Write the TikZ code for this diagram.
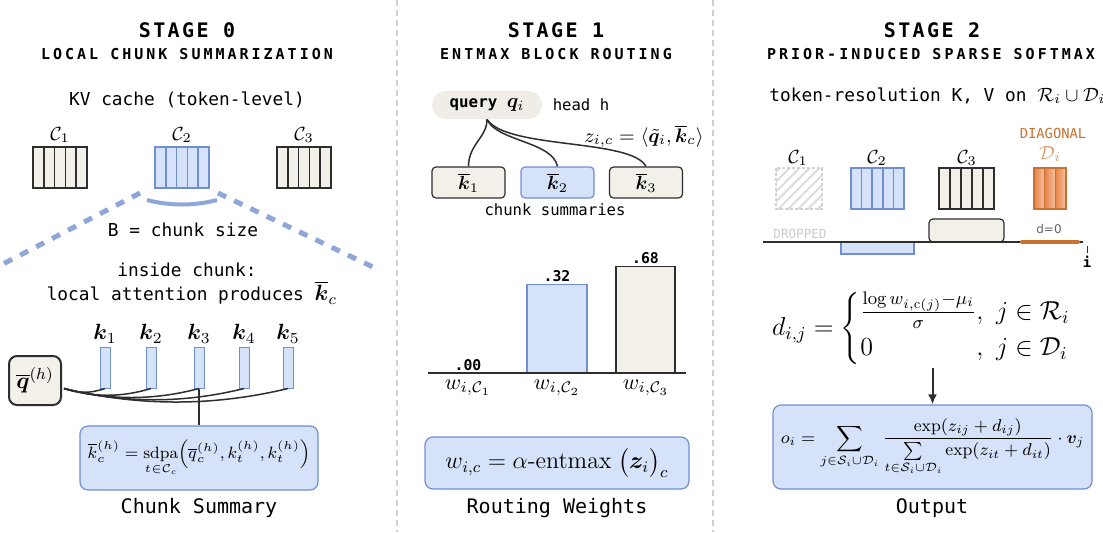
\RequirePackage{fix-cm}
\documentclass[tikz,border=0pt]{standalone}
\usepackage{amsmath,bm}
\usepackage{fontspec}
\setmonofont{DejaVu Sans Mono}
\newfontfamily\stagefont[LetterSpace=12]{DejaVu Sans Mono}
\newfontfamily\subfont[LetterSpace=20]{DejaVu Sans Mono}
\newfontfamily\smallsans{DejaVu Sans}
\usetikzlibrary{positioning,patterns.meta,arrows.meta,calc}
\definecolor{beige}{HTML}{F2F0E9}
\definecolor{pillfill}{HTML}{EFEDE5}
\definecolor{paleblue}{HTML}{D6E2FA}
\definecolor{blueline}{HTML}{6F8FD2}
\definecolor{dashblue}{HTML}{8FA7D8}
\definecolor{orangeline}{HTML}{C9722F}
\definecolor{orangefill}{HTML}{E8884A}
\definecolor{sepgray}{HTML}{D0D0D0}
\definecolor{darkline}{HTML}{2E2E2E}
\begin{document}
\begin{tikzpicture}[x=0.5pt, y=-0.5pt, every node/.style={inner sep=1pt},
    stagetitle/.style={font=\stagefont\bfseries\fontsize{10}{12}\selectfont},
    subtitle/.style={font=\subfont\bfseries\fontsize{7.5}{9}\selectfont},
    mono/.style={font=\ttfamily\fontsize{8.9}{10}\selectfont},
    smallmono/.style={font=\ttfamily\fontsize{7.8}{9}\selectfont},
    caption/.style={font=\ttfamily\fontsize{10}{12}\selectfont},
    val/.style={font=\ttfamily\bfseries\fontsize{7.4}{9}\selectfont},
    mathlbl/.style={font=\fontsize{9.5}{10}\selectfont},
    box/.style={draw=blueline, fill=paleblue, rounded corners=4pt, line width=0.6pt, inner sep=0pt},
    kbox/.style={draw=darkline, fill=beige, rounded corners=2pt, line width=0.6pt, minimum width=36.5pt, minimum height=15.5pt, inner sep=0pt, font=\fontsize{9.5}{10}\selectfont},
    kbar/.style={draw=blueline, fill=paleblue, line width=0.5pt, minimum width=5pt, minimum height=20.5pt, inner sep=0pt},
    wbar/.style={line width=0.6pt, inner sep=0pt, anchor=south},
    link/.style={draw=darkline, line width=0.75pt},
    chunk/.style={line width=0.8pt},
    sep/.style={draw=sepgray, line width=0.6pt, dash pattern=on 3pt off 2pt}]
    \useasboundingbox (0,0) rectangle (1103,532) ;
    \fill[white] (0,0) rectangle (1103,532) ;
    \draw[sep] (397,0) -- (397,532) ;
    \draw[sep] (713,0) -- (713,532) ;

    % stage 0
    \node[stagetitle] (t0) at (187,30) {STAGE 0} ;
    \node[subtitle] (s0) at (187,54) {LOCAL CHUNK SUMMARIZATION} ;
    \node[mono] (kv) at (187,100) {KV cache (token-level)} ;
    \draw[chunk, draw=darkline, fill=beige] (33,147) rectangle ++(54,41) ;
    \foreach \k in {1,...,4} \draw[chunk, draw=darkline] (33+\k*10.8,147) -- ++(0,41) ;
    \draw[chunk, draw=blueline, fill=paleblue] (155,147) rectangle ++(54,41) ;
    \foreach \k in {1,...,4} \draw[chunk, draw=blueline] (155+\k*10.8,147) -- ++(0,41) ;
    \draw[chunk, draw=darkline, fill=beige] (277,147) rectangle ++(54,41) ;
    \foreach \k in {1,...,4} \draw[chunk, draw=darkline] (277+\k*10.8,147) -- ++(0,41) ;
    \node[mathlbl] (c1) at (60,135) {$\mathcal{C}_1$} ;
    \node[mathlbl] (c2) at (182,135) {$\mathcal{C}_2$} ;
    \node[mathlbl] (c3) at (304,135) {$\mathcal{C}_3$} ;
    \draw[dashblue, line width=2pt] (147,200) .. controls (170,206) and (194,206) .. (217,200) ;
    \draw[dashblue, line width=2.5pt, dash pattern=on 4.5pt off 4.5pt] (140,193) -- (3,264) ;
    \draw[dashblue, line width=2.5pt, dash pattern=on 4.5pt off 4.5pt] (218,193) -- (375,268) ;
    \node[mono] (bsize) at (183,230) {B = chunk size} ;
    \node[mono] (inside) at (187,270) {inside chunk:} ;
    \node[mono] (local) at (192,293) {local attention produces {\fontsize{11}{12}\selectfont$\overline{\boldsymbol{k}}_c$}} ;
    \foreach \i/\x in {1/105,2/151,3/199,4/244,5/288}
        \node[kbar, label={[font=\fontsize{11}{12}\selectfont, inner sep=1.5pt]above:$\boldsymbol{k}_{\i}$}] (bar\i) at (\x,367.5) {} ;
    \node[draw=darkline, fill=beige, line width=1pt, rounded corners=4pt, minimum width=26pt, minimum height=24.5pt, inner sep=0pt, font=\fontsize{11.5}{12}\selectfont] (qbar) at (35,380.5) {$\overline{\boldsymbol{q}}^{(h)}$} ;
    \coordinate (qout) at ($(qbar.east)+(2,8)$) ;
    \foreach \i/\a/\d in {1/15/5,2/30/9,3/45/12,4/60/15,5/75/18}
        \draw[link] (qout) .. controls +(\a,\d) and +(-\a,\d) .. (bar\i.south) ;
    \node[box, minimum width=119pt, minimum height=32pt, font=\fontsize{8.2}{10}\selectfont] (sumbox) at (199,458)
        {$\displaystyle \overline{k}_c^{(h)} = \operatorname*{sdpa}_{t\in\mathcal{C}_c}\Bigl(\overline{q}_c^{(h)}, k_t^{(h)}, k_t^{(h)}\Bigr)$} ;
    \draw[link, line width=1.2pt] (bar3.south) -- (sumbox.north) ;
    \node[caption] (cap0) at (199,508) {Chunk Summary} ;

    % stage 1
    \node[stagetitle] (t1) at (556,30) {STAGE 1} ;
    \node[subtitle] (s1) at (556,54) {ENTMAX BLOCK ROUTING} ;
    \node[fill=pillfill, rounded corners=7pt, minimum width=55pt, minimum height=14pt, inner sep=0pt, font=\ttfamily\fontsize{7.9}{9}\selectfont] (query) at (487,105) {\textbf{query} {\fontsize{10}{11}\selectfont$\boldsymbol{q}_i$}} ;
    \node[smallmono, right=4pt of query] (head) {head h} ;
    \node[font=\fontsize{9.8}{11}\selectfont] (zic) at (644,136) {$z_{i,c} = \langle\tilde{\boldsymbol{q}}_i, \overline{\boldsymbol{k}}_c\rangle$} ;
    \node[kbox] (kb1) at (468.5,182.5) {$\overline{\boldsymbol{k}}_1$} ;
    \node[kbox, draw=blueline, fill=paleblue] (kb2) at (557.5,182.5) {$\overline{\boldsymbol{k}}_2$} ;
    \node[kbox] (kb3) at (646,182.5) {$\overline{\boldsymbol{k}}_3$} ;
    \node[smallmono] (summ) at (555,210) {chunk summaries} ;
    \draw[link] (query.south) .. controls +(0,18) and +(0,-22) .. (kb1.north) ;
    \draw[link] (query.south) .. controls +(10,22) and +(-5,-25) .. (kb2.north) ;
    \draw[link] (query.south) .. controls +(20,30) and +(-15,-28) .. (kb3.north) ;
    \coordinate (w1) at (468,373) ;
    \node[wbar, draw=blueline, fill=paleblue, minimum width=30pt, minimum height=44pt] (w2) at (557,373) {} ;
    \node[wbar, draw=darkline, fill=beige, minimum width=29.5pt, minimum height=53pt] (w3) at (645.5,373) {} ;
    \draw[draw=darkline, line width=0.6pt] (428,373) -- (686,373) ;
    \node[val, above=0pt of w1] (v1) {.00} ;
    \node[val, above=0pt of w2] (v2) {.32} ;
    \node[val, above=0pt of w3] (v3) {.68} ;
    \node[font=\fontsize{11}{12}\selectfont] (wl1) at (468,388) {$w_{i,\mathcal{C}_1}$} ;
    \node[font=\fontsize{11}{12}\selectfont] (wl2) at (557,388) {$w_{i,\mathcal{C}_2}$} ;
    \node[font=\fontsize{11}{12}\selectfont] (wl3) at (646,388) {$w_{i,\mathcal{C}_3}$} ;
    \node[box, minimum width=132pt, minimum height=26pt, font=\fontsize{12}{14}\selectfont] (rbox) at (557,463)
        {$w_{i,c} = \alpha\text{-entmax}\;\bigl(\boldsymbol{z}_i\bigr)_c$} ;
    \node[caption] (cap1) at (557,508) {Routing Weights} ;

    % stage 2
    \node[stagetitle] (t2) at (932,30) {STAGE 2} ;
    \node[subtitle] (s2) at (931,54) {PRIOR-INDUCED SPARSE SOFTMAX} ;
    \node[mono, anchor=west] (tokres) at (767,96) {token-resolution K, V on {\fontsize{9.6}{11}\selectfont$\mathcal{R}_i\cup\mathcal{D}_i$}} ;
    \node[font=\ttfamily\fontsize{6.9}{8}\selectfont, text=orangeline] (diag) at (1053,133) {DIAGONAL} ;
    \node[mathlbl, text=orangeline!70] (dlbl) at (1050,154) {$\mathcal{D}_i$} ;
    \node[mathlbl] (sc1) at (798,158) {$\mathcal{C}_1$} ;
    \node[mathlbl] (sc2) at (877,158) {$\mathcal{C}_2$} ;
    \node[mathlbl] (sc3) at (967,158) {$\mathcal{C}_3$} ;
    \fill[pattern={Lines[angle=45, distance=3.5pt, line width=0.9pt]}, pattern color=gray!30] (776,168) rectangle (822,209) ;
    \draw[gray!35, line width=0.6pt, dash pattern=on 1.5pt off 1pt] (776,168) rectangle (822,209) ;
    \draw[chunk, draw=blueline, fill=paleblue] (851,168) rectangle ++(53,41) ;
    \foreach \k in {1,...,4} \draw[chunk, draw=blueline] (851+\k*10.6,168) -- ++(0,41) ;
    \draw[chunk, draw=darkline, fill=beige] (939,168) rectangle ++(55,41) ;
    \foreach \k in {1,...,4} \draw[chunk, draw=darkline] (939+\k*11,168) -- ++(0,41) ;
    \foreach \k in {0,1,2}
        \shade[left color=orangefill!95!red, right color=orangefill!50] (1034+\k*10.67,168) rectangle ++(10.67,41) ;
    \draw[chunk, draw=orangeline] (1034,168) rectangle ++(32,41) ;
    \foreach \k in {1,2} \draw[chunk, draw=orangeline] (1034+\k*10.67,168) -- ++(0,41) ;
    \draw[draw=blueline, fill=paleblue, line width=0.6pt] (841,242) rectangle (914,254) ;
    \draw[draw=darkline, fill=beige, line width=0.6pt, rounded corners=2pt] (929,219) rectangle (1004,242) ;
    \draw[draw=darkline, line width=0.6pt] (763,242) -- (1083,242) ;
    \draw[orangeline, line width=2pt, line cap=round] (1022,242) -- (1078,242) ;
    \node[font=\ttfamily\fontsize{6.3}{8}\selectfont, text=gray!40] (drop) at (800,234) {DROPPED} ;
    \node[font=\smallsans\fontsize{6}{7}\selectfont, text=gray!80!black] (dzero) at (1049,229) {d=0} ;
    \draw[darkline, line width=0.5pt] (1087,246) -- (1087,253) ;
    \node[font=\ttfamily\bfseries\fontsize{7}{8}\selectfont] (ilbl) at (1087,262) {i} ;
    \node[font=\fontsize{13}{15}\selectfont] (dform) at (922,329)
        {$d_{i,j} = \left\{\renewcommand\arraystretch{1.2}\begin{array}{@{}l@{}l@{}}
            \frac{\log w_{i,\mathrm{c}(j)}-\mu_i}{\sigma} & ,\ j\in\mathcal{R}_i \\
            0 & ,\ j\in\mathcal{D}_i
         \end{array}\right.$} ;
    \node[box, minimum width=159.5pt, minimum height=42pt, font=\fontsize{8.6}{10}\selectfont] (outbox) at (932.5,447)
        {$\displaystyle o_i = \sum_{j\in\mathcal{S}_i\cup\mathcal{D}_i}\frac{\exp(z_{ij}+d_{ij})}{\sum\limits_{t\in\mathcal{S}_i\cup\mathcal{D}_i}\exp(z_{it}+d_{it})}\cdot\boldsymbol{v}_j$} ;
    \draw[-{Latex[length=5pt,width=4.5pt]}, line width=1pt, darkline] (dform.south -| outbox.north) -- (outbox.north) ;
    \node[caption] (cap2) at (932,508) {Output} ;
\end{tikzpicture}
\end{document}
